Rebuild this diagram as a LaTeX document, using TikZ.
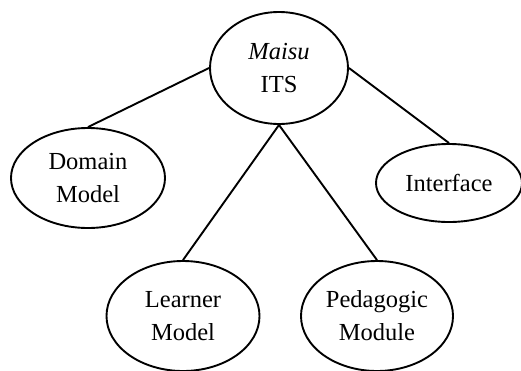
\documentclass[tikz,border=0pt]{standalone}
\usepackage{fontspec}
\setmainfont{Liberation Serif}
\usetikzlibrary{shapes.geometric}
\begin{document}
\begin{tikzpicture}[x=1pt,y=-1pt,
  ell/.style={draw, ellipse, line width=1.9pt, inner sep=0pt, align=center,
    font=\fontsize{24.5}{33}\selectfont},
  link/.style={line width=1.9pt}]
\useasboundingbox (0,0) rectangle (521,370);
\node[ell, minimum width=138pt, minimum height=112pt] (m) at (279,68) {\textit{Maisu}\\ITS};
\node[ell, minimum width=154pt, minimum height=100pt] (d) at (88,178) {Domain\\Model};
\node[ell, minimum width=146pt, minimum height=78pt] (i) at (449,183) {Interface};
\node[ell, minimum width=153pt, minimum height=110pt] (l) at (183,316) {Learner\\Model};
\node[ell, minimum width=152pt, minimum height=110pt] (p) at (377,316) {Pedagogic\\Module};
\draw[link] (m.west) -- (d.north);
\draw[link] (m.east) -- (i.north);
\draw[link] (m.south) -- (l.north);
\draw[link] (m.south) -- (p.north);
\end{tikzpicture}
\end{document}
